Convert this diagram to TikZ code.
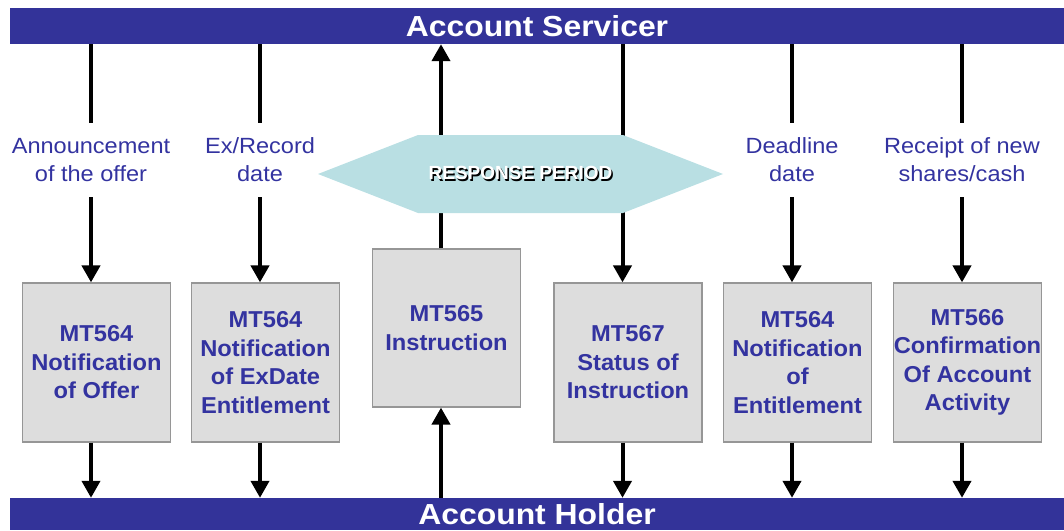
\documentclass[tikz,border=0pt]{standalone}
\usepackage{fontspec}
\setmainfont{Liberation Sans}
\newfontfamily\titlefont[FakeStretch=1.1]{Liberation Sans}
\newfontfamily\labelfont[FakeStretch=1.07]{Liberation Sans}
\newfontfamily\boxfont[FakeStretch=1.03]{Liberation Sans}
\usetikzlibrary{arrows.meta,shapes.symbols}
\definecolor{barblue}{RGB}{51,51,153}
\definecolor{txtblue}{RGB}{51,51,160}
\definecolor{boxgray}{RGB}{221,221,221}
\definecolor{boxline}{RGB}{150,150,150}
\definecolor{hexblue}{RGB}{185,223,227}
\begin{document}
\begin{tikzpicture}[x=1pt,y=-1pt,
 bar/.style={fill=barblue, text=white, font=\titlefont\fontsize{29}{30}\selectfont\bfseries, minimum width=1054pt, inner sep=0},
 msgbox/.style={draw=boxline, line width=1.2pt, fill=boxgray, minimum width=148pt, minimum height=159pt, inner sep=0, align=center, text=txtblue, font=\boxfont\fontsize{23}{28.5}\selectfont\bfseries},
 evlabel/.style={align=center, text=txtblue, font=\labelfont\fontsize{22}{28}\selectfont, minimum height=74pt, inner sep=0},
 flow/.style={line width=4pt, -{Triangle[length=17pt,width=18pt]}},
 plain/.style={line width=4pt},
 period/.style={signal, signal to=east and west, signal pointer angle=42.6, minimum width=405pt, minimum height=78pt, inner sep=0, fill=hexblue, font=\fontsize{19}{20}\selectfont\bfseries}
]
\useasboundingbox (0,0) rectangle (1064,530);
\node[bar, minimum height=36pt] (top) at (537,26) {Account Servicer};
\node[bar, minimum height=32pt] (bot) at (537,514) {Account Holder};

\node[evlabel] (l1) at (91,160) {Announcement\\of the offer};
\node[evlabel] (l2) at (260,160) {Ex/Record\\date};
\node[evlabel] (l5) at (792,160) {Deadline\\date};
\node[evlabel] (l6) at (962,160) {Receipt of new\\shares/cash};

\node[msgbox] (b1) at (96.5,362.5) {MT564\\Notification\\of Offer};
\node[msgbox] (b2) at (265.5,362.5) {MT564\\Notification\\of ExDate\\Entitlement};
\node[msgbox, minimum height=158pt] (b3) at (446.5,328) {MT565\\Instruction};
\node[msgbox] (b4) at (628,362.5) {MT567\\Status of\\Instruction};
\node[msgbox] (b5) at (797.5,362.5) {MT564\\Notification\\of\\Entitlement};
\node[msgbox] (b6) at (967.5,362.5) {MT566\\Confirmation\\Of Account\\Activity};

\foreach \l/\b in {l1/b1,l2/b2,l5/b5,l6/b6}{
  \draw[plain] (top.south -| \l) -- (\l.north);
  \draw[flow] (\l.south) -- (\l.south |- \b.north);
}
\foreach \b in {b1,b2,b4,b5,b6}{
  \draw[flow] ([xshift=-5.5pt]\b.south) -- ([xshift=-5.5pt]\b.south |- bot.north);
}
\draw[flow] ([xshift=-5.5pt]b3.north) -- ([xshift=-5.5pt]b3.north |- top.south);
\draw[flow] ([xshift=-5.5pt]b3.south |- bot.north) -- ([xshift=-5.5pt]b3.south);
\draw[flow] ([xshift=-5.5pt]b4.north |- top.south) -- ([xshift=-5.5pt]b4.north);

\node[period] (rp) at (520.5,174) {\makebox[0pt][l]{\kern1.5pt\raisebox{-1.5pt}{\color{black}RESPONSE PERIOD}}\textcolor{white}{RESPONSE PERIOD}};
\end{tikzpicture}
\end{document}
